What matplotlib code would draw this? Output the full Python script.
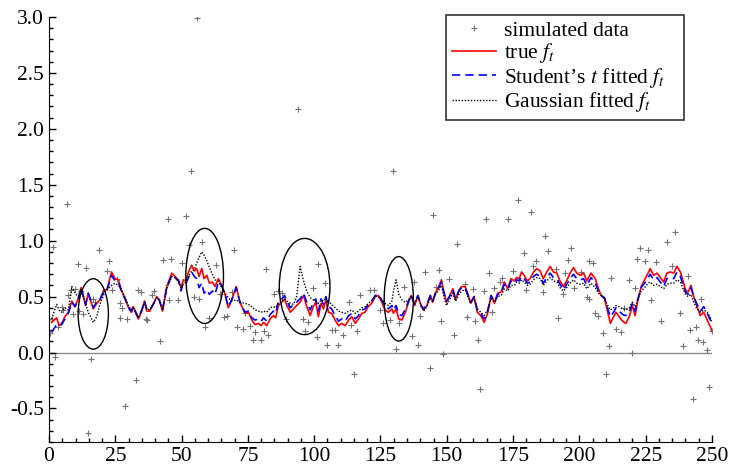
import numpy as np
import matplotlib
matplotlib.use("Agg")
import matplotlib.pyplot as plt
from matplotlib.patches import Ellipse
from matplotlib.ticker import MultipleLocator

plt.rcParams["font.family"] = ["Liberation Serif", "DejaVu Serif"]
plt.rcParams["mathtext.fontset"] = "stix"

# time points of the curves
t = [1, 2.9, 3.8, 4.8, 6, 7.3, 8.6, 9.8, 11, 12.1, 13.8, 14.8, 16.7, 18, 19.2, 20.7, 21.8, 23.6, 24.9, 26.2,
     27.4, 28.7, 30, 31, 31.8, 32.4, 33.7, 35, 36, 36.9, 38, 39.5, 40.6, 41.6, 42.8, 44.4, 46.3, 47.5, 48.8, 49.8,
     50.7, 51.7, 52.6, 53.8, 54.8, 55.7, 56.6, 57.6, 58.5, 59.5, 60.5, 61.6, 62.6, 63.9, 65.1, 66.4, 67.6, 68.9, 70.6, 72,
     73.9, 75.2, 76.5, 77.7, 79, 80, 80.9, 82.1, 83.4, 84.6, 85.5, 86.5, 87.8, 88.8, 89.7, 91, 92.2, 93.4, 94.7, 96,
     97.2, 98.5, 99.7, 100.6, 101.6, 102.6, 103.5, 104.4, 105.4, 106.6, 107.9, 109.2, 110.4, 111.7, 113, 114.2, 115.5, 116.7, 118, 119.2,
     120.4, 121.7, 123, 124.2, 125.5, 126.7, 128, 129.3, 129.9, 130.9, 131.9, 133.1, 134.4, 135.6, 136.6, 137.9, 139.1, 140.4, 141.3, 142.5,
     143.8, 144.7, 145.7, 147, 148, 148.9, 149.9, 151, 152.3, 153.3, 154.6, 155.6, 156.9, 157.8, 159, 160.3, 161.5, 162.8, 164.1, 165.4,
     166.7, 168, 169.2, 170.5, 171.7, 173, 174.2, 175.5, 176.3, 177.3, 178.2, 179.2, 180.4, 181.4, 182.7, 183.9, 185.2, 186.4, 187.7, 189,
     190.2, 191.5, 192.7, 194, 195.2, 196.5, 197.8, 199, 200.3, 201.6, 202.8, 204.4, 206, 207.2, 208.2, 209.5, 210.7, 211.7, 212.9, 213.8,
     215, 216.3, 217.5, 218.8, 220, 221, 222.1, 223.3, 224.6, 225.9, 226.7, 228, 229.3, 230.5, 231.8, 233, 234.3, 235.6, 236.8, 238.1,
     239.1, 240, 241, 242.1, 243.1, 244.4, 245.6, 246.9, 248.2, 249.4, 250]

f_true = [0.27, 0.31, 0.24, 0.26, 0.32, 0.36, 0.46, 0.41, 0.48, 0.58, 0.42, 0.53, 0.39, 0.44, 0.47, 0.56, 0.56, 0.72, 0.66, 0.65,
          0.55, 0.48, 0.40, 0.36, 0.41, 0.37, 0.30, 0.37, 0.46, 0.37, 0.37, 0.44, 0.50, 0.47, 0.37, 0.59, 0.71, 0.68, 0.65, 0.58,
          0.65, 0.64, 0.72, 0.78, 0.73, 0.75, 0.68, 0.75, 0.66, 0.69, 0.62, 0.63, 0.59, 0.66, 0.60, 0.52, 0.40, 0.47, 0.59, 0.45,
          0.35, 0.36, 0.29, 0.25, 0.26, 0.24, 0.27, 0.24, 0.30, 0.33, 0.31, 0.42, 0.45, 0.48, 0.42, 0.36, 0.39, 0.42, 0.45, 0.51,
          0.41, 0.33, 0.41, 0.45, 0.32, 0.44, 0.39, 0.47, 0.36, 0.35, 0.29, 0.24, 0.26, 0.24, 0.29, 0.32, 0.26, 0.30, 0.35, 0.36,
          0.41, 0.44, 0.50, 0.51, 0.45, 0.38, 0.36, 0.39, 0.35, 0.39, 0.30, 0.29, 0.36, 0.45, 0.51, 0.42, 0.51, 0.41, 0.38, 0.42,
          0.51, 0.45, 0.53, 0.59, 0.65, 0.54, 0.45, 0.50, 0.57, 0.47, 0.56, 0.59, 0.59, 0.53, 0.44, 0.50, 0.36, 0.33, 0.27, 0.35,
          0.51, 0.44, 0.53, 0.54, 0.63, 0.57, 0.66, 0.64, 0.67, 0.66, 0.72, 0.69, 0.64, 0.66, 0.72, 0.75, 0.73, 0.66, 0.72, 0.77,
          0.72, 0.71, 0.64, 0.59, 0.64, 0.71, 0.76, 0.71, 0.69, 0.71, 0.64, 0.71, 0.66, 0.57, 0.51, 0.48, 0.36, 0.26, 0.32, 0.36,
          0.32, 0.28, 0.26, 0.32, 0.42, 0.33, 0.47, 0.59, 0.65, 0.71, 0.75, 0.69, 0.71, 0.67, 0.63, 0.71, 0.72, 0.71, 0.77, 0.72,
          0.64, 0.56, 0.54, 0.60, 0.50, 0.41, 0.33, 0.36, 0.29, 0.23, 0.19]

f_student = [0.18, 0.25, 0.24, 0.25, 0.30, 0.35, 0.45, 0.41, 0.47, 0.58, 0.43, 0.53, 0.40, 0.45, 0.47, 0.55, 0.55, 0.69, 0.64, 0.63,
             0.54, 0.48, 0.40, 0.37, 0.41, 0.38, 0.31, 0.38, 0.46, 0.38, 0.38, 0.44, 0.49, 0.47, 0.38, 0.58, 0.69, 0.67, 0.64, 0.55,
             0.63, 0.62, 0.67, 0.72, 0.68, 0.66, 0.58, 0.62, 0.53, 0.56, 0.52, 0.55, 0.52, 0.63, 0.60, 0.52, 0.41, 0.47, 0.58, 0.45,
             0.36, 0.37, 0.31, 0.29, 0.30, 0.28, 0.31, 0.28, 0.34, 0.37, 0.35, 0.46, 0.48, 0.51, 0.46, 0.40, 0.43, 0.45, 0.48, 0.53,
             0.45, 0.38, 0.45, 0.48, 0.37, 0.48, 0.43, 0.50, 0.41, 0.39, 0.33, 0.28, 0.30, 0.28, 0.33, 0.35, 0.30, 0.33, 0.38, 0.39,
             0.43, 0.46, 0.51, 0.52, 0.47, 0.41, 0.39, 0.42, 0.38, 0.42, 0.34, 0.33, 0.39, 0.46, 0.51, 0.43, 0.51, 0.42, 0.39, 0.43,
             0.51, 0.46, 0.53, 0.58, 0.63, 0.54, 0.46, 0.50, 0.56, 0.48, 0.55, 0.58, 0.58, 0.53, 0.45, 0.50, 0.38, 0.35, 0.30, 0.37,
             0.51, 0.45, 0.52, 0.53, 0.61, 0.57, 0.64, 0.62, 0.65, 0.64, 0.68, 0.66, 0.62, 0.63, 0.68, 0.70, 0.68, 0.62, 0.67, 0.71,
             0.67, 0.66, 0.61, 0.56, 0.61, 0.66, 0.70, 0.66, 0.65, 0.66, 0.60, 0.67, 0.62, 0.55, 0.51, 0.49, 0.39, 0.32, 0.36, 0.40,
             0.37, 0.34, 0.33, 0.36, 0.44, 0.37, 0.48, 0.58, 0.62, 0.67, 0.70, 0.65, 0.67, 0.63, 0.59, 0.66, 0.67, 0.66, 0.72, 0.68,
             0.60, 0.54, 0.52, 0.58, 0.50, 0.43, 0.37, 0.41, 0.35, 0.29, 0.26]

f_gauss = [0.30, 0.43, 0.38, 0.36, 0.40, 0.38, 0.59, 0.53, 0.50, 0.57, 0.44, 0.36, 0.27, 0.32, 0.43, 0.52, 0.56, 0.60, 0.62, 0.60,
           0.56, 0.49, 0.42, 0.38, 0.40, 0.37, 0.31, 0.38, 0.45, 0.39, 0.38, 0.44, 0.49, 0.47, 0.38, 0.57, 0.68, 0.67, 0.64, 0.57,
           0.62, 0.63, 0.68, 0.73, 0.74, 0.80, 0.85, 0.90, 0.87, 0.82, 0.76, 0.70, 0.65, 0.64, 0.58, 0.53, 0.49, 0.46, 0.47, 0.45,
           0.44, 0.43, 0.41, 0.38, 0.37, 0.36, 0.37, 0.36, 0.40, 0.41, 0.40, 0.44, 0.46, 0.48, 0.46, 0.44, 0.43, 0.50, 0.77, 0.64,
           0.55, 0.49, 0.47, 0.46, 0.44, 0.47, 0.46, 0.49, 0.46, 0.43, 0.40, 0.37, 0.36, 0.35, 0.37, 0.38, 0.35, 0.37, 0.40, 0.41,
           0.44, 0.46, 0.50, 0.50, 0.47, 0.44, 0.42, 0.46, 0.55, 0.65, 0.52, 0.47, 0.45, 0.47, 0.51, 0.44, 0.50, 0.42, 0.37, 0.41,
           0.49, 0.45, 0.52, 0.56, 0.60, 0.50, 0.42, 0.47, 0.53, 0.46, 0.52, 0.55, 0.56, 0.51, 0.44, 0.48, 0.39, 0.36, 0.33, 0.38,
           0.48, 0.45, 0.50, 0.51, 0.57, 0.55, 0.60, 0.60, 0.63, 0.62, 0.65, 0.63, 0.60, 0.61, 0.65, 0.67, 0.66, 0.60, 0.64, 0.67,
           0.64, 0.63, 0.58, 0.55, 0.58, 0.62, 0.65, 0.62, 0.61, 0.62, 0.57, 0.62, 0.58, 0.53, 0.51, 0.48, 0.42, 0.38, 0.40, 0.42,
           0.41, 0.39, 0.38, 0.40, 0.45, 0.41, 0.48, 0.55, 0.58, 0.62, 0.63, 0.60, 0.61, 0.59, 0.57, 0.61, 0.62, 0.62, 0.65, 0.63,
           0.57, 0.52, 0.50, 0.52, 0.45, 0.39, 0.36, 0.38, 0.36, 0.31, 0.28]

# simulated observations
t_obs = [0.4, 1.0, 1.6, 2.3, 3.5, 4.8, 5.4, 6.9, 7.3, 8.3, 9.2, 9.8, 11.0, 11.3, 12.1, 13.0, 13.8, 14.8, 15.8, 16.7,
         17.3, 18.9, 21.7, 22.7, 23.6, 25.5, 26.7, 26.8, 27.4, 28.8, 29.3, 31.2, 32.8, 33.7, 34.6, 36.4, 36.8, 38.7, 39.7, 41.9,
         42.9, 44.8, 45.4, 45.9, 48.8, 50.0, 51.7, 52.9, 53.7, 54.8, 56.0, 56.7, 57.8, 58.9, 60.5, 62.9, 64.5, 66.0, 67.0, 68.9,
         69.9, 70.8, 73.0, 73.9, 75.7, 76.8, 77.7, 80.0, 80.9, 82.0, 82.7, 85.0, 86.5, 87.8, 89.3, 90.5, 93.8, 95.7, 96.6, 97.6,
         99.7, 101.0, 101.6, 103.9, 104.8, 106.6, 107.9, 108.8, 110.8, 113.0, 114.0, 114.9, 116.1, 117.1, 120.9, 122.7, 124.9, 125.8, 128.6, 129.9,
         130.9, 131.8, 134.0, 136.8, 137.8, 139.0, 139.9, 141.8, 143.7, 144.7, 145.9, 146.9, 147.8, 148.7, 150.9, 152.6, 154.0, 156.9, 157.5, 159.8,
         160.5, 161.6, 162.7, 164.0, 164.9, 166.0, 167.0, 167.9, 169.9, 171.0, 172.9, 174.9, 176.8, 179.0, 179.7, 181.8, 182.7, 183.6, 186.4, 186.9,
         188.0, 191.0, 191.9, 193.7, 194.6, 195.9, 196.9, 197.8, 200.7, 202.7, 203.7, 203.8, 205.0, 205.8, 207.1, 208.9, 210.1, 211.0, 211.9, 213.8,
         215.8, 217.0, 218.9, 219.8, 220.8, 221.9, 222.9, 224.8, 225.8, 227.0, 229.0, 230.8, 233.0, 234.9, 235.9, 237.8, 239.0, 240.9, 241.8, 242.8,
         243.9, 244.9, 245.8, 246.8, 248.1, 248.8, 249.9]
y_obs = [0.17, 0.30, 0.94, -0.04, 0.23, 0.41, 0.38, 1.33, 0.51, 0.56, 0.34, 0.57, 0.79, 0.37, 0.55, 0.34, 0.76, -0.72, -0.06, 0.48,
         0.45, 0.92, 0.73, 0.82, 0.56, 0.66, 0.44, 0.31, 0.40, -0.48, 0.30, 0.39, -0.25, 0.56, 0.54, 0.30, 0.29, 0.51, 0.55, 0.10,
         0.83, 1.19, 0.47, 0.84, 0.47, 0.80, 1.22, 0.96, 1.62, 0.50, 2.99, 0.48, 0.99, 0.23, 0.31, 0.78, 0.52, 0.32, 0.33, 0.54,
         0.92, 0.23, 0.21, 0.35, 0.24, 0.11, 0.18, 0.11, 0.19, 0.75, 0.16, 0.52, 0.55, 0.53, 0.30, 0.42, 2.18, 0.30, 0.19, 0.27,
         0.58, 0.14, 0.79, 0.62, 0.07, 0.20, 0.20, 0.07, 0.16, 0.45, 0.25, -0.19, 0.19, 0.51, 0.56, 0.56, 0.38, 0.26, 0.29, 1.62,
         0.03, 0.26, 0.59, 0.15, 0.63, 0.07, 0.33, 0.72, -0.14, 1.23, 0.59, 0.74, 0.28, -0.01, 0.66, 0.16, 0.97, 0.61, 0.32, 0.57,
         0.28, 0.11, -0.33, 0.55, 1.19, 0.71, 0.36, 0.58, 0.63, 0.67, 1.19, 0.73, 1.36, 0.89, 0.56, 1.26, 0.77, 0.82, 0.54, 1.04,
         0.91, 0.75, 0.31, 0.52, 0.71, 0.83, 0.93, 0.58, 0.72, 0.50, 0.48, 0.82, 0.80, 0.35, 0.33, 0.17, -0.19, 0.06, 0.67, 0.21,
         0.18, 0.40, 0.65, 0.00, 0.58, 0.84, 0.93, 0.82, 0.92, 0.47, 0.81, 0.28, 0.99, 0.77, 1.08, 0.35, 0.06, 0.68, 0.20, -0.42,
         0.23, 0.11, 0.48, 0.09, 0.02, -0.31, 0.19]

# circled regions: (centre t, centre y, width, height)
circles = [(16.7, 0.345, 11.4, 0.63), (58.7, 0.685, 14.2, 0.85),
           (96.4, 0.59, 19.1, 0.86), (131.9, 0.48, 11.0, 0.755)]

fig = plt.figure(figsize=(7.3, 4.69), dpi=100)
ax = fig.add_axes([0.0671, 0.0576, 0.9082, 0.9062])

ax.axhline(0, color="0.55", lw=1.0, zorder=1)
ax.plot(t_obs, y_obs, ls="none", marker="+", ms=5, mew=0.8, color="0.45", label="simulated data", zorder=2)
ax.plot(t, f_true, color="red", lw=1.2, label="true $f_t$", zorder=3)
ax.plot(t, f_student, color="blue", lw=1.2, ls=(0, (5, 3)), label="Student\u2019s $t$ fitted $f_t$", zorder=4)
ax.plot(t, f_gauss, color="black", lw=1.0, ls=(0, (1, 1.2)), label="Gaussian fitted $f_t$", zorder=5)

for cx, cy, w, h in circles:
    ax.add_patch(Ellipse((cx, cy), w, h, fill=False, color="black", lw=1.0, zorder=6))

ax.set_xlim(0, 250)
ax.set_ylim(-0.8, 3.0)
ax.xaxis.set_major_locator(MultipleLocator(25))
ax.xaxis.set_minor_locator(MultipleLocator(5))
ax.yaxis.set_major_locator(MultipleLocator(0.5))
ax.yaxis.set_minor_locator(MultipleLocator(0.1))
ax.yaxis.set_major_formatter(plt.FuncFormatter(lambda v, p: f"{v:.1f}"))
ax.spines["top"].set_visible(False)
ax.spines["right"].set_visible(False)
ax.tick_params(which="both", direction="in", labelsize=15.5, width=1)
ax.tick_params(which="major", length=5)
ax.tick_params(which="minor", length=3)

leg = ax.legend(loc="upper left", bbox_to_anchor=(0.599, 0.772, 0.359, 0.233), mode="expand",
                fontsize=15.5, frameon=True, fancybox=False, edgecolor="black", borderaxespad=0,
                handlelength=2.05, handletextpad=0.38, labelspacing=0.02, borderpad=0.28)
leg.get_frame().set_linewidth(1.2)

fig.savefig("out.png", dpi=100)
